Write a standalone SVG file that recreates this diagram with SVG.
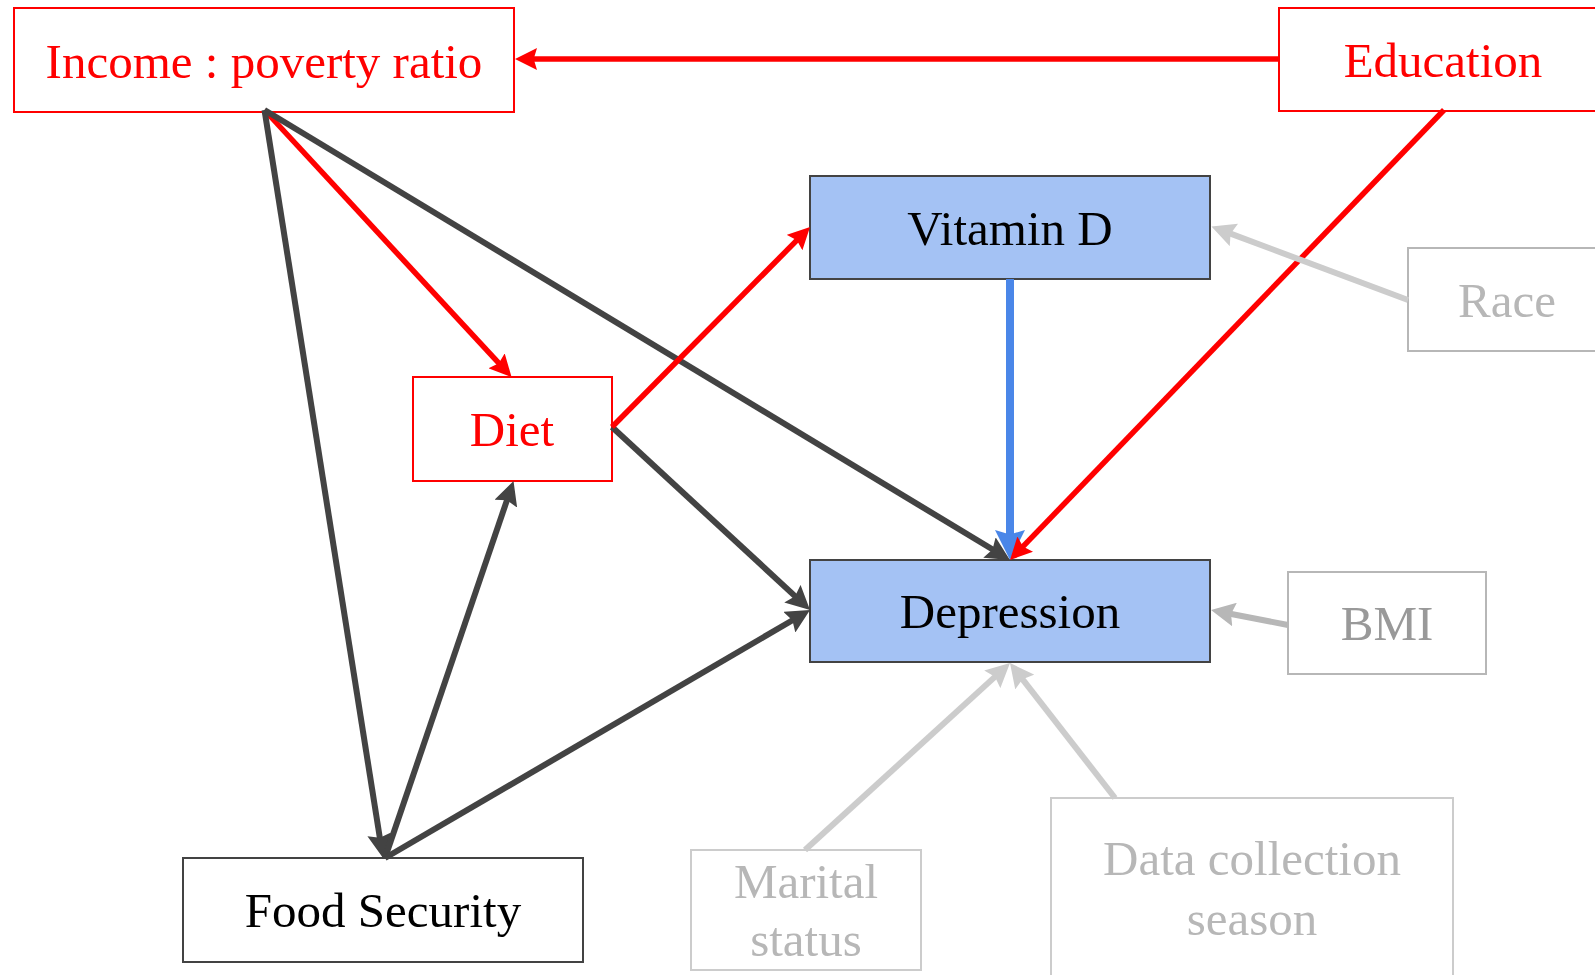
<svg xmlns="http://www.w3.org/2000/svg" width="1595" height="975" viewBox="0 0 1595 975">
<style>
  .box { stroke-width: 2; }
  .red { fill: #ffffff; stroke: #ff0000; }
  .dark { fill: #ffffff; stroke: #434343; }
  .blue { fill: #a4c2f4; stroke: #434343; }
  .gray { fill: #ffffff; stroke: #b7b7b7; }
  .lgray { fill: #ffffff; stroke: #cccccc; }
  text { font-family: "Liberation Serif", "Times New Roman", serif; font-size: 49px; text-anchor: middle; }
  .tred { fill: #ff0000; }
  .tblack { fill: #000000; }
  .tgray { fill: #b7b7b7; }
  .tbmi { fill: #999999; }
  .c { fill: none; stroke-linecap: butt; }
  .cred { stroke: #ff0000; stroke-width: 5.5; }
  .cdark { stroke: #434343; stroke-width: 6; }
  .cblue { stroke: #4a86e8; stroke-width: 8; }
  .clg { stroke: #cccccc; stroke-width: 6; }
  .cmg { stroke: #b7b7b7; stroke-width: 6; }
</style>
<defs>
  <marker id="aRed" viewBox="0 0 10 10" refX="3" refY="5" markerWidth="22" markerHeight="22" markerUnits="userSpaceOnUse" orient="auto">
    <path d="M0,0 L10,5 L0,10 L1.5,5 z" fill="#ff0000"/>
  </marker>
  <marker id="aDark" viewBox="0 0 10 10" refX="3" refY="5" markerWidth="24" markerHeight="24" markerUnits="userSpaceOnUse" orient="auto">
    <path d="M0,0 L10,5 L0,10 L1.5,5 z" fill="#434343"/>
  </marker>
  <marker id="aBlue" viewBox="0 0 10 10" refX="3" refY="5" markerWidth="30" markerHeight="30" markerUnits="userSpaceOnUse" orient="auto">
    <path d="M0,0 L10,5 L0,10 L1.5,5 z" fill="#4a86e8"/>
  </marker>
  <marker id="aLg" viewBox="0 0 10 10" refX="3" refY="5" markerWidth="24" markerHeight="24" markerUnits="userSpaceOnUse" orient="auto">
    <path d="M0,0 L10,5 L0,10 L1.5,5 z" fill="#cccccc"/>
  </marker>
  <marker id="aMg" viewBox="0 0 10 10" refX="3" refY="5" markerWidth="24" markerHeight="24" markerUnits="userSpaceOnUse" orient="auto">
    <path d="M0,0 L10,5 L0,10 L1.5,5 z" fill="#b7b7b7"/>
  </marker>
</defs>
<rect x="0" y="0" width="1595" height="975" fill="#ffffff"/>

<g id="income">
  <rect class="box red" x="14" y="8" width="500" height="104"/>
  <text class="tred" x="264" y="78">Income : poverty ratio</text>
</g>
<g id="education">
  <rect class="box red" x="1279" y="8" width="340" height="103"/>
  <text class="tred" x="1443" y="77">Education</text>
</g>
<g id="vitamind">
  <rect class="box blue" x="810" y="176" width="400" height="103"/>
  <text class="tblack" x="1010" y="245">Vitamin D</text>
</g>
<g id="depression">
  <rect class="box blue" x="810" y="560" width="400" height="102"/>
  <text class="tblack" x="1010" y="628">Depression</text>
</g>
<g id="diet">
  <rect class="box red" x="413" y="377" width="199" height="104"/>
  <text class="tred" x="512" y="446">Diet</text>
</g>
<g id="foodsecurity">
  <rect class="box dark" x="183" y="858" width="400" height="104"/>
  <text class="tblack" x="383" y="927">Food Security</text>
</g>
<g id="race">
  <rect class="box gray" x="1408" y="248" width="200" height="103"/>
  <text class="tgray" x="1507" y="317">Race</text>
</g>
<g id="bmi">
  <rect class="box gray" x="1288" y="572" width="198" height="102"/>
  <text class="tbmi" x="1387" y="640">BMI</text>
</g>
<g id="marital">
  <rect class="box lgray" x="691" y="850" width="230" height="120"/>
  <text class="tgray" x="806" y="898">Marital</text>
  <text class="tgray" x="806" y="956">status</text>
</g>
<g id="season">
  <rect class="box lgray" x="1051" y="798" width="402" height="200"/>
  <text class="tgray" x="1252" y="875">Data collection</text>
  <text class="tgray" x="1252" y="935">season</text>
</g>

<g id="connectors">
  <line class="c cred" x1="1279" y1="59" x2="530.4" y2="59" marker-end="url(#aRed)"/>
  <line class="c cred" x1="264.5" y1="110" x2="501.1" y2="365.7" marker-end="url(#aRed)"/>
  <line class="c cdark" x1="264.5" y1="110" x2="995.6" y2="551.3" marker-end="url(#aDark)"/>
  <line class="c cdark" x1="264.5" y1="110" x2="380.4" y2="841.4" marker-end="url(#aDark)"/>
  <line class="c cdark" x1="385" y1="858" x2="508.1" y2="496.9" marker-end="url(#aDark)"/>
  <line class="c cdark" x1="385" y1="858" x2="795.5" y2="618.5" marker-end="url(#aDark)"/>
  <line class="c cdark" x1="612" y1="427" x2="797.7" y2="598.6" marker-end="url(#aDark)"/>
  <line class="c cred" x1="612" y1="427" x2="799.2" y2="237.9" marker-end="url(#aRed)"/>
  <line class="c cblue" x1="1010" y1="279" x2="1010" y2="539" marker-end="url(#aBlue)"/>
  <line class="c cred" x1="1444" y1="110" x2="1020.7" y2="548.9" marker-end="url(#aRed)"/>
  <line class="c clg" x1="1408" y1="300" x2="1227.2" y2="232.4" marker-end="url(#aLg)"/>
  <line class="c cmg" x1="1288" y1="625" x2="1227.5" y2="613.2" marker-end="url(#aMg)"/>
  <line class="c clg" x1="805" y1="850" x2="997.6" y2="674.4" marker-end="url(#aLg)"/>
  <line class="c clg" x1="1115" y1="798" x2="1020.3" y2="676.3" marker-end="url(#aLg)"/>
</g>
</svg>
